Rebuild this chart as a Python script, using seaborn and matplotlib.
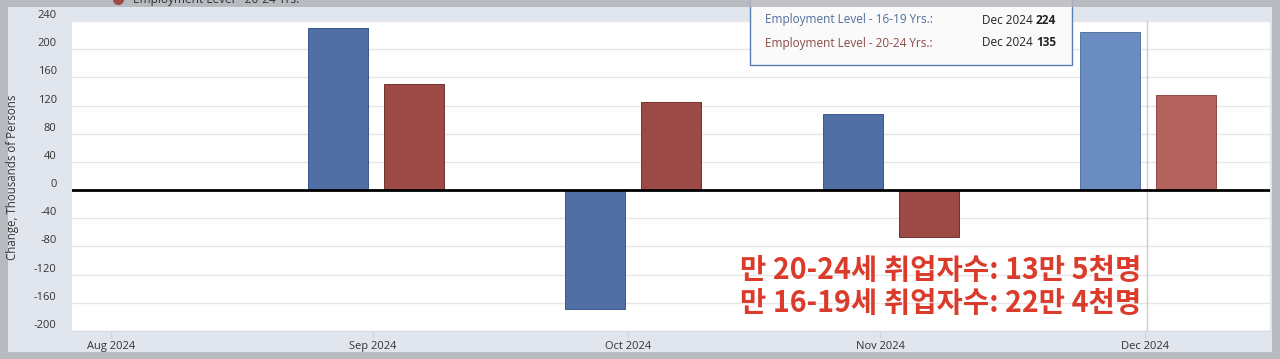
import numpy as np
import pandas as pd
import matplotlib
matplotlib.use('Agg')
import matplotlib.pyplot as plt
import seaborn as sns
from matplotlib.patches import Rectangle
from matplotlib.lines import Line2D

# ---------------- data ----------------
months = ['Aug 2024', 'Sep 2024', 'Oct 2024', 'Nov 2024', 'Dec 2024']
data_months = ['Sep 2024', 'Oct 2024', 'Nov 2024', 'Dec 2024']
teen = [230, -169, 108, 224]      # Employment Level - 16-19 Yrs.
young = [150, 125, -67, 135]      # Employment Level - 20-24 Yrs.
series = ['Employment Level - 16-19 Yrs.', 'Employment Level - 20-24 Yrs.']
yticks = list(range(-200, 241, 40))
annot = ['만 20-24세 취업자수: 13만 5천명', '만 16-19세 취업자수: 22만 4천명']
ylabel = 'Change, Thousands of Persons'

W, H = 1280, 359
sns.set_theme(style='white')
plt.rcParams['font.family'] = ['Open Sans', 'DejaVu Sans']

FRAME = '#B7BABF'
PANEL = '#E1E6EE'
BLUE, RED = '#4F6FA5', '#9D4A46'
BLUE_E, RED_E = '#3B5889', '#73332F'
BLUE_H, RED_H = '#6A8CC0', '#B5635E'
BLUE_HE, RED_HE = '#56769F', '#8E4843'

fig = plt.figure(figsize=(W / 100, H / 100), dpi=100, facecolor=FRAME)


def fx(px):
    return px / W


def fy(py):
    return 1 - py / H


# panel background
fig.patches.append(Rectangle((fx(8), fy(352)), fx(1272) - fx(8), fy(7) - fy(352),
                             transform=fig.transFigure, facecolor=PANEL,
                             edgecolor='none', zorder=-1))

ax = fig.add_axes([fx(72), fy(331), fx(1270) - fx(72), fy(21) - fy(331)])
ax.set_facecolor('white')

df = pd.DataFrame({
    'month': data_months * 2,
    'series': [series[0]] * len(data_months) + [series[1]] * len(data_months),
    'value': teen + young,
})
sns.barplot(data=df, x='month', y='value', hue='series', order=months,
            hue_order=series, palette=[BLUE, RED], saturation=1,
            width=0.591, gap=0.21, errorbar=None, legend=False, ax=ax)

edges = [BLUE_E, RED_E]
hov = [BLUE_H, RED_H]
hov_e = [BLUE_HE, RED_HE]
for i, cont in enumerate(ax.containers):
    for bar in cont:
        bar.set_edgecolor(edges[i])
        bar.set_linewidth(0.7)
        cx = bar.get_x() + bar.get_width() / 2
        if cx > 3.5:
            bar.set_facecolor(hov[i])
            bar.set_edgecolor(hov_e[i])

ax.set_xlim(-0.1815, 4.4746)
ax.set_ylim(-200, 240)
ax.set_yticks(yticks)
ax.set_yticklabels([str(v) for v in yticks])
ax.set_xticks([-0.03, 0.988, 1.98, 2.96, 3.99])
ax.set_xticklabels(months)
ax.set_xlabel('')
ax.set_ylabel('')
ax.grid(axis='y', color='#E6E6E6', lw=1)
ax.grid(axis='x', visible=False)
ax.set_axisbelow(True)
ax.axhline(0, color='black', lw=2, zorder=4)
ax.axvline(3.995, color='#CCCCCC', lw=1, zorder=0.8)

for s in ['top', 'left', 'right']:
    ax.spines[s].set_visible(False)
ax.spines['bottom'].set_color('#D5DCE6')
ax.spines['bottom'].set_linewidth(1)

ax.tick_params(axis='x', length=5, width=1, color='#CCD6EB', direction='out',
               labelsize=8, labelcolor='#333333', pad=2.5, bottom=True)
ax.tick_params(axis='y', length=0, labelsize=8, labelcolor='#333333', pad=11)
for lbl in ax.get_yticklabels():
    lbl.set_verticalalignment('bottom')

fig.text(fx(13), fy(177), ylabel, rotation=90, ha='center', va='center',
         fontsize=8.3, color='#333333')

# cut-off legend item at top
fig.add_artist(Line2D([fx(118)], [fy(-1)], marker='o', ms=7, color=RED,
                      transform=fig.transFigure, zorder=8))
fig.text(fx(133), fy(3), series[1], fontsize=8.6, color='#333333', va='baseline',
         zorder=8)

# tooltip
fig.patches.append(Rectangle((fx(750), fy(65)), fx(1072) - fx(750), fy(-3) - fy(65),
                             transform=fig.transFigure, facecolor='#FAFAFA',
                             edgecolor='#5A7FB5', lw=1, zorder=5))
fig.patches.append(Rectangle((0, fy(7)), 1, 1 - fy(7), transform=fig.transFigure,
                             facecolor=FRAME, edgecolor='none', alpha=0.85, zorder=6))
tip_colors = ['#4F6E9C', '#8A4A45']
tip_vals = [teen[-1], young[-1]]
for k, yy in enumerate([20, 43]):
    fig.text(fx(765), fy(yy), series[k] + ':', color=tip_colors[k], fontsize=8.5,
             va='center', zorder=7)
    fig.text(fx(1033), fy(yy), data_months[-1], color='#222222', fontsize=8.5,
             va='center', ha='right', zorder=7)
    fig.text(fx(1036), fy(yy), str(tip_vals[k]), color='#222222', fontsize=8.5,
             va='center', ha='left', weight='bold', zorder=7)

# Korean annotation
for k, yy in enumerate([270, 303]):
    fig.text(fx(740), fy(yy), annot[k], fontsize=20.6, weight='heavy', color='#DB3B2B',
             family=['Noto Sans CJK KR', 'DejaVu Sans'], va='center', ha='left',
             zorder=7)

fig.savefig('out.png', dpi=100, facecolor=FRAME)
